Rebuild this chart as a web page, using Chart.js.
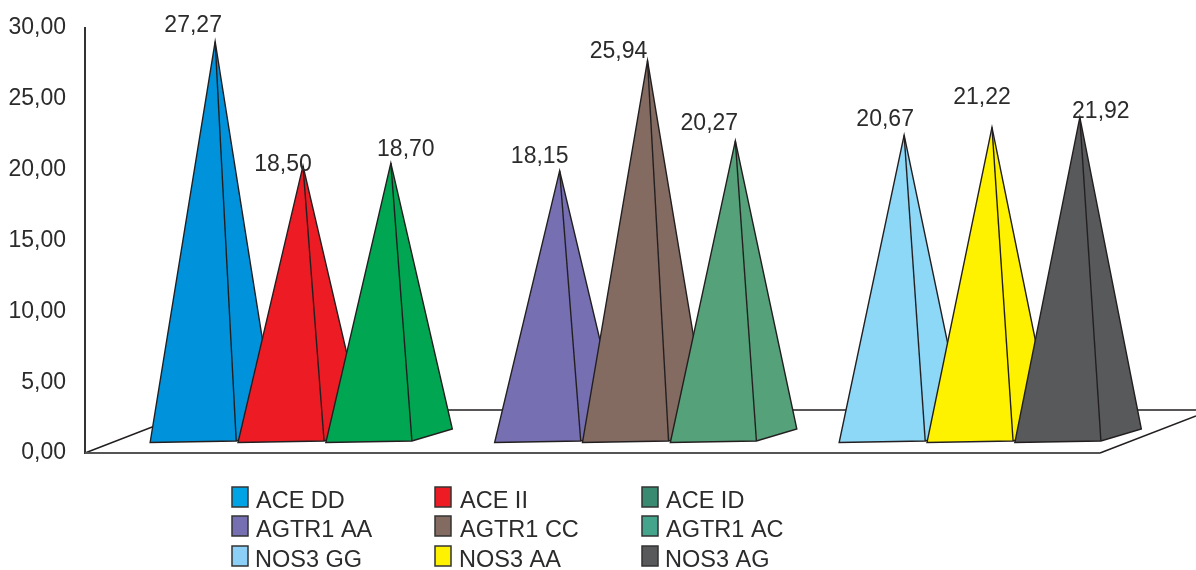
<!DOCTYPE html>
<html>
<head>
<meta charset="utf-8">
<title>Genotype pyramids</title>
<script src="https://cdn.jsdelivr.net/npm/chart.js@4/dist/chart.umd.min.js"></script>
<style>
  html, body { margin: 0; padding: 0; background: #fff; }
  canvas { display: block; }
</style>
</head>
<body>
<canvas id="chart" width="1196" height="570"></canvas>
<script>
// ─────────────────────────────────────────────
// Data
// ─────────────────────────────────────────────
const groupPositions = [1, 2, 3];

const aceNames   = ['ACE DD', 'ACE II', 'ACE ID'];
const agtr1Names = ['AGTR1 AA', 'AGTR1 CC', 'AGTR1 AC'];
const nos3Names  = ['NOS3 GG', 'NOS3 AA', 'NOS3 AG'];

const aceValues   = [27.27, 18.50, 18.70];
const agtr1Values = [18.15, 25.94, 20.27];
const nos3Values  = [20.67, 21.22, 21.92];

// ─────────────────────────────────────────────
// Colours
// ─────────────────────────────────────────────
const aceColors   = ['#0093dc', '#ed1c24', '#00a651'];
const agtr1Colors = ['#7670b3', '#836b62', '#55a27a'];
const nos3Colors  = ['#8dd7f7', '#fff200', '#58595b'];

// the legend swatches do not all match their pyramids in the original
const legendColors = [
  ['#00a4e4', '#ed1c24', '#3a8a72'],
  ['#7670b3', '#836b62', '#45a58c'],
  ['#8dd0f7', '#fff200', '#58595b'],
];

const STROKE = '#231f20';
const TEXT   = '#2b2b2b';
const FONT   = '"Liberation Sans", Arial, sans-serif';

// ─────────────────────────────────────────────
// Datasets: one per slot inside a group
// ─────────────────────────────────────────────
const valueRows = [aceValues, agtr1Values, nos3Values];
const colorRows = [aceColors, agtr1Colors, nos3Colors];
const nameRows  = [aceNames, agtr1Names, nos3Names];

const datasets = [0, 1, 2].map((slot) => ({
  label: nameRows.map((row) => row[slot]).join(' / '),
  data: groupPositions.map((x, g) => ({ x, y: valueRows[g][slot] })),
  backgroundColor: colorRows.map((row) => row[slot]),
  barPercentage: 1,
  categoryPercentage: 0.765,
}));

// ─────────────────────────────────────────────
// Floor + pyramids (the bars give x, y and width)
// ─────────────────────────────────────────────
const DEPTH = 25;   // the value wall stands this far above the front axis line

// label offset from the apex, group by group
const labelNudge = [
  [[-22, -16], [-20, -1], [15, -13]],
  [[-20, -14], [-29, -9], [-26, -17]],
  [[-19, -16], [-10, -30], [21, -6]],
];

function poly(ctx, pts, fill) {
  ctx.beginPath();
  pts.forEach(([x, y], i) => (i ? ctx.lineTo(x, y) : ctx.moveTo(x, y)));
  ctx.closePath();
  if (fill) { ctx.fillStyle = fill; ctx.fill(); }
  ctx.stroke();
}

function drawFloor(ctx, chart) {
  const { left, right } = chart.chartArea;
  const y0 = chart.scales.y.getPixelForValue(0);
  ctx.strokeStyle = STROKE;
  ctx.lineWidth = 1.5;
  ctx.beginPath();
  ctx.moveTo(left, y0);
  ctx.lineTo(left + 111, y0 - 43);
  ctx.lineTo(right, y0 - 43);
  ctx.moveTo(right, y0 - 37);
  ctx.lineTo(right - 96, y0);
  ctx.stroke();
  ctx.strokeStyle = '#555';
  ctx.lineWidth = 2;
  ctx.beginPath();
  ctx.moveTo(left, y0);
  ctx.lineTo(right - 96, y0);
  ctx.stroke();
}

function drawPyramid(ctx, bar, y0) {
  const w = bar.width;
  const apex = [bar.x, bar.y - DEPTH];
  const frontLeft  = [bar.x - w * 0.74, y0 - 10.5];
  const frontRight = [bar.x + w * 0.24, y0 - 12];
  const backRight  = [bar.x + w * 0.70, y0 - 24];
  ctx.strokeStyle = STROKE;
  ctx.lineWidth = 1.4;
  ctx.lineJoin = 'miter';
  poly(ctx, [apex, frontLeft, frontRight, backRight], bar.options.backgroundColor);
  ctx.beginPath();
  ctx.moveTo(...apex);
  ctx.lineTo(...frontRight);
  ctx.stroke();
}

function formatValue(v) {
  return v.toFixed(2).replace('.', ',');
}

const pyramidPlugin = {
  id: 'pyramids',
  beforeDatasetsDraw(chart) {
    const ctx = chart.ctx;
    const y0 = chart.scales.y.getPixelForValue(0);
    ctx.save();
    drawFloor(ctx, chart);
    groupPositions.forEach((_, g) => {
      datasets.forEach((_, slot) => drawPyramid(ctx, chart.getDatasetMeta(slot).data[g], y0));
    });
    ctx.fillStyle = TEXT;
    ctx.font = '23px ' + FONT;
    ctx.textAlign = 'center';
    ctx.textBaseline = 'middle';
    groupPositions.forEach((_, g) => {
      datasets.forEach((_, slot) => {
        const bar = chart.getDatasetMeta(slot).data[g];
        const [dx, dy] = labelNudge[g][slot];
        ctx.fillText(formatValue(valueRows[g][slot]), bar.x + dx, bar.y - DEPTH + dy);
      });
    });
    ctx.restore();
  },
  // the bars themselves are only used for their geometry
  beforeDatasetDraw() {
    return false;
  },
};

// ─────────────────────────────────────────────
// Legend, 3 x 3 as in the original
// ─────────────────────────────────────────────
const LEGEND_SWATCH_X = [232, 435, 642];
const LEGEND_SWATCH_Y = [487, 516, 546];
const LEGEND_TEXT_X   = [256, 460, 666];
const LEGEND_BASELINE = [508, 537, 567];

const legendPlugin = {
  id: 'gridLegend',
  afterDraw(chart) {
    const ctx = chart.ctx;
    ctx.save();
    ctx.font = '23.5px ' + FONT;
    ctx.textAlign = 'left';
    ctx.textBaseline = 'alphabetic';
    nameRows.forEach((row, r) => {
      row.forEach((name, c) => {
        ctx.fillStyle = legendColors[r][c];
        ctx.strokeStyle = '#333';
        ctx.lineWidth = 1.5;
        ctx.fillRect(LEGEND_SWATCH_X[c], LEGEND_SWATCH_Y[r], 16, 20);
        ctx.strokeRect(LEGEND_SWATCH_X[c], LEGEND_SWATCH_Y[r], 16, 20);
        ctx.fillStyle = TEXT;
        // the NOS3 row starts a touch further left
        ctx.fillText(name, LEGEND_TEXT_X[c] - (r === 2 ? 1 : 0), LEGEND_BASELINE[r]);
      });
    });
    ctx.restore();
  },
};

// ─────────────────────────────────────────────
// Chart
// ─────────────────────────────────────────────
new Chart(document.getElementById('chart'), {
  type: 'bar',
  data: { datasets },
  plugins: [pyramidPlugin, legendPlugin],
  options: {
    responsive: false,
    animation: false,
    layout: { padding: { top: 28, bottom: 117, left: 0, right: 0 } },
    plugins: { legend: { display: false }, tooltip: { enabled: false } },
    scales: {
      x: {
        type: 'linear',
        display: false,
        offset: false,
        min: 0.3672,
        max: 3.5922,
        // the bar width comes from the tick spacing, so keep ticks on the groups only
        ticks: { stepSize: 1, includeBounds: false },
      },
      y: {
        min: 0,
        max: 30,
        afterFit: (scale) => {
          scale.width = 85;
          scale.paddingTop = 0;
          scale.paddingBottom = 0;
        },
        grid: { display: false, drawTicks: false },
        border: { color: '#333', width: 2 },
        ticks: {
          stepSize: 5,
          padding: 19,
          color: TEXT,
          font: { family: FONT, size: 23 },
          callback: (v) => formatValue(v),
        },
      },
    },
  },
});
</script>
</body>
</html>
